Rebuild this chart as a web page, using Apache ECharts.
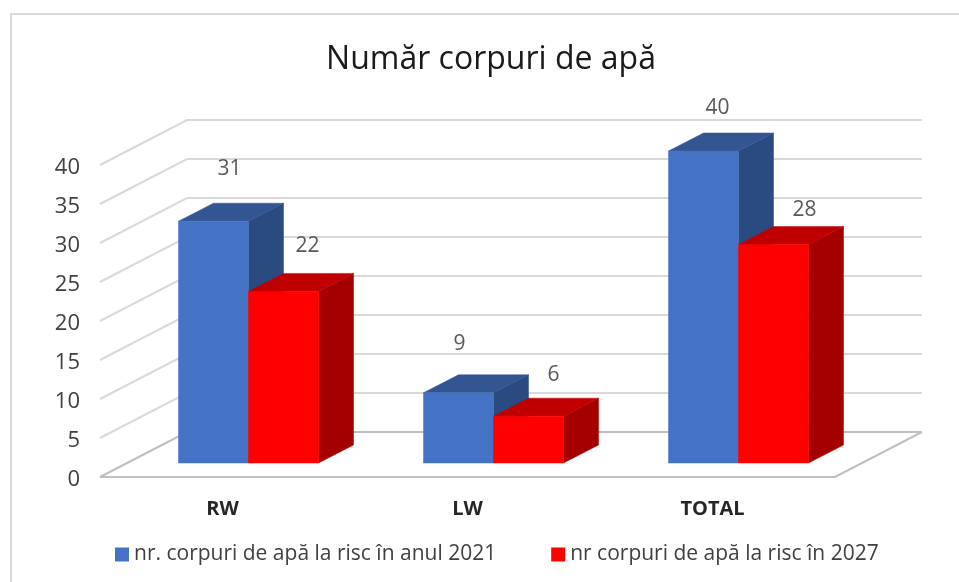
<!DOCTYPE html>
<html>
<head>
<meta charset="utf-8">
<title>Număr corpuri de apă</title>
<style>
html,body{margin:0;padding:0;background:#fff}
#chart{width:959px;height:582px}
</style>
<script src="https://cdn.jsdelivr.net/npm/echarts@6/dist/echarts.min.js"></script>
</head>
<body>
<div id="chart"></div>
<script>
var categories = ['RW', 'LW', 'TOTAL']
var risk2021 = [31, 9, 40]
var risk2027 = [22, 6, 28]
var yTicks = [0, 5, 10, 15, 20, 25, 30, 35, 40]
var name2021 = 'nr. corpuri de apă la risc în anul 2021'
var name2027 = 'nr corpuri de apă la risc în 2027'

// fake 3d, pixels
var wallDx = 87, wallDy = 45
var barShiftX = 26, barShiftY = 14
var depthX = 35, depthY = 18
var barW = 70
var fontName = '"Open Sans", sans-serif'

// hand placed data labels, relative to the top left of the front face
var labelNudge2021 = [[51, -52], [36, -49], [49, -43]]
var labelNudge2027 = [[59, -45], [60, -41], [66, -35]]

function poly(points, fill) {
    return {type: 'polygon', shape: {points: points}, style: {fill: fill, stroke: fill, lineWidth: 0.5}}
}

function wallItem(params, api) {
    var v = api.value(0)
    var y = api.coord([0, v])[1]
    var g = params.coordSys
    var left = g.x, right = g.x + g.width
    var color = v === 0 ? '#bfbfbf' : '#d9d9d9'
    var pts = [[left, y], [left + wallDx, y - wallDy], [right + wallDx, y - wallDy]]
    var kids = [{type: 'polyline', shape: {points: pts}, style: {stroke: color, lineWidth: 2, fill: null}}]
    if (v === 0) {
        kids.push({type: 'polyline',
            shape: {points: [[left, y], [right, y], [right + wallDx, y - wallDy]]},
            style: {stroke: color, lineWidth: 2, fill: null}})
    }
    return {type: 'group', children: kids}
}

function barRender(slot, colors, nudge) {
    return function (params, api) {
        var i = api.value(0)
        var top = api.coord([i, api.value(1)])
        var base = api.coord([i, 0])
        var x0 = top[0] + barShiftX + slot * barW
        var x1 = x0 + barW
        var yt = top[1] - barShiftY
        var yb = base[1] - barShiftY
        return {type: 'group', children: [
            poly([[x1, yt], [x1 + depthX, yt - depthY], [x1 + depthX, yb - depthY], [x1, yb]], colors[1]),
            poly([[x0, yt], [x0 + depthX, yt - depthY], [x1 + depthX, yt - depthY], [x1, yt]], colors[2]),
            poly([[x0, yt], [x1, yt], [x1, yb], [x0, yb]], colors[0]),
            {type: 'text', style: {
                x: x0 + nudge[i][0], y: yt + nudge[i][1],
                text: String(api.value(1)),
                align: 'center', verticalAlign: 'middle',
                font: '21px ' + fontName, fill: '#595959'
            }}
        ]}
    }
}

var myChart = echarts.init(document.getElementById('chart'), null, {renderer: 'canvas'})
var option = {
    backgroundColor: '#fff',
    animation: false,
    title: {
        text: 'Număr corpuri de apă',
        left: 486,
        top: 39,
        textAlign: 'center',
        textStyle: {fontFamily: fontName, fontSize: 32, fontWeight: 'normal', color: '#1a1a1a'}
    },
    legend: {
        data: [name2021, name2027],
        left: 110,
        top: 539,
        icon: 'rect',
        itemWidth: 14,
        itemHeight: 14,
        itemGap: 55,
        textStyle: {fontFamily: fontName, fontSize: 21, color: '#404040'}
    },
    grid: {left: 100, width: 735, top: 165, height: 312},
    xAxis: {
        type: 'category',
        data: categories,
        axisLine: {show: false},
        axisTick: {show: false},
        axisLabel: {margin: 22, fontFamily: fontName, fontSize: 20, fontWeight: 'bold', color: '#262626'}
    },
    yAxis: {
        type: 'value',
        min: 0,
        max: 40,
        interval: 5,
        axisLine: {show: false},
        axisTick: {show: false},
        splitLine: {show: false},
        axisLabel: {
            margin: 20,
            formatter: '{t|{value}}',
            rich: {t: {padding: [5, 0, 0, 0], fontFamily: fontName, fontSize: 22, color: '#404040'}}
        }
    },
    graphic: [{
        type: 'polyline',
        silent: true,
        shape: {points: [[11, 582], [11, 14], [959, 14]]},
        style: {stroke: '#d9d9d9', lineWidth: 2, fill: null}
    }],
    series: [
        {
            type: 'custom',
            name: 'wall',
            silent: true,
            renderItem: wallItem,
            data: yTicks.map(function (v) { return [v] }),
            encode: {y: 0}
        },
        {
            type: 'custom',
            name: name2021,
            itemStyle: {color: '#4472c4'},
            renderItem: barRender(-1, ['#4472c4', '#2b4a80', '#335693'], labelNudge2021),
            data: risk2021.map(function (v, i) { return [i, v] }),
            encode: {x: 0, y: 1}
        },
        {
            type: 'custom',
            name: name2027,
            itemStyle: {color: '#ff0000'},
            renderItem: barRender(0, ['#ff0000', '#a50000', '#c00000'], labelNudge2027),
            data: risk2027.map(function (v, i) { return [i, v] }),
            encode: {x: 0, y: 1}
        }
    ]
}
myChart.setOption(option)
</script>
</body>
</html>
